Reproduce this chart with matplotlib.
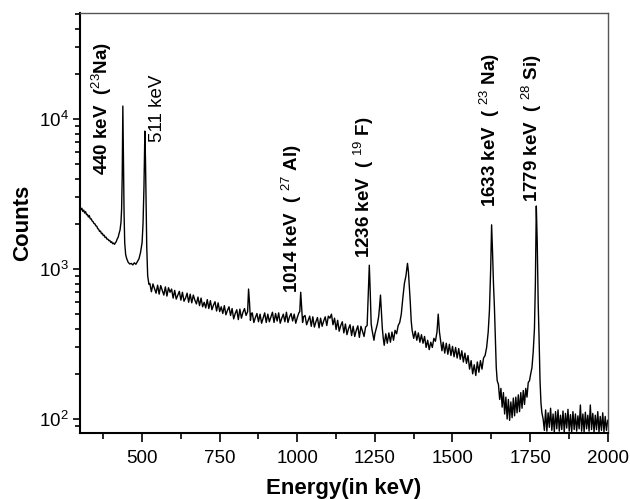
import matplotlib
matplotlib.use("Agg")
import matplotlib.pyplot as plt
from matplotlib.ticker import MultipleLocator, LogLocator, NullFormatter

plt.rcParams['font.family'] = ['Liberation Sans', 'DejaVu Sans']
plt.rcParams['mathtext.fontset'] = 'custom'
plt.rcParams['mathtext.rm'] = 'Liberation Sans'
plt.rcParams['mathtext.bf'] = 'Liberation Sans:bold'

# spectrum: energy (keV) and counts, row by row
energy = [
    300, 303, 306, 309, 312, 315, 318, 321, 324, 327, 330, 333, 336, 339, 342, 345,
    348, 351, 354, 357, 360, 363, 366, 369, 372, 375, 378, 381, 384, 387, 390, 393,
    396, 399, 402, 405, 408, 411, 414, 417, 420, 423, 426, 429, 432, 434, 436, 438,
    440, 442, 444, 447, 450, 455, 460, 465, 470, 475, 480, 485, 490, 495, 500, 503,
    506, 509, 511, 513, 515, 518, 522,
    525, 530, 535, 540, 545, 550, 555, 560, 565, 570, 575, 580, 585, 590, 595, 600,
    605, 610, 615, 620, 625, 630, 635, 640, 645, 650, 655, 660, 665, 670, 675, 680,
    685, 690, 695, 700, 705, 710, 715, 720, 725, 730, 735, 740, 745, 750, 755, 760,
    765, 770, 775, 780, 785, 790, 795, 800, 805, 810, 815, 820, 825, 830, 835, 840,
    843, 846, 849, 852,
    855, 860, 865, 870, 875, 880, 885, 890, 895, 900, 905, 910, 915, 920, 925, 930,
    935, 940, 945, 950, 955, 960, 965, 970, 975, 980, 985, 990, 995, 1000, 1005, 1008,
    1011, 1014, 1017, 1020,
    1025, 1030, 1035, 1040, 1045, 1050, 1055, 1060, 1065, 1070, 1075, 1080, 1085, 1090, 1095, 1100,
    1105, 1110, 1115, 1120, 1125, 1130, 1135, 1140, 1145, 1150, 1155, 1160, 1165, 1170, 1175, 1180,
    1185, 1190, 1195, 1200, 1205, 1210, 1215, 1220, 1225, 1229, 1232, 1235, 1238, 1241, 1244, 1247,
    1250, 1254, 1258, 1262, 1265, 1268, 1271, 1274, 1277, 1280, 1285, 1290, 1295, 1300, 1305, 1310,
    1315, 1320, 1325, 1330, 1335, 1340, 1345, 1350, 1355, 1358, 1361, 1364, 1367, 1370, 1375, 1380,
    1385, 1390, 1395, 1400, 1405, 1410, 1415, 1420, 1425, 1430, 1435, 1440, 1445, 1450, 1454, 1458,
    1462, 1466, 1470, 1475, 1480, 1485, 1490, 1495, 1500, 1505, 1510, 1515, 1520, 1525, 1530, 1535,
    1540, 1545, 1550, 1555, 1560, 1565, 1570, 1575, 1580, 1585, 1590, 1595, 1600, 1605, 1610, 1615,
    1619, 1623, 1626, 1629, 1632, 1635, 1638, 1641, 1644, 1648, 1652, 1656, 1660, 1664, 1668, 1672,
    1676, 1680, 1684, 1688, 1692, 1696, 1700, 1704, 1708, 1712, 1716, 1720, 1724, 1728, 1732, 1736,
    1740, 1744, 1748, 1752, 1756, 1760, 1764, 1767, 1770, 1773, 1776, 1779, 1782, 1785, 1788, 1792,
    1796, 1800, 1804, 1808, 1812, 1816, 1820, 1824, 1828, 1832, 1836, 1840, 1844, 1848, 1852, 1856,
    1860, 1864, 1868, 1872, 1876, 1880, 1884, 1888, 1892, 1896, 1900, 1904, 1908, 1912, 1916, 1920,
    1924, 1928, 1932, 1936, 1940, 1944, 1948, 1952, 1956, 1960, 1964, 1968, 1972, 1976, 1980, 1984,
    1988, 1992, 1996, 2000,
]
counts = [
    2620, 2480, 2540, 2420, 2470, 2360, 2410, 2300, 2310, 2220, 2270, 2160, 2160, 2090, 2070, 2010,
    2000, 1940, 1930, 1860, 1840, 1780, 1790, 1720, 1730, 1670, 1680, 1620, 1630, 1580, 1580, 1545,
    1550, 1505, 1520, 1475, 1490, 1460, 1495, 1525, 1590, 1630, 1730, 1820, 2050, 2500, 4200, 12200,
    5000, 2300, 1500, 1250, 1180, 1110, 1080, 1090, 1065, 1100, 1075, 1120, 1170, 1290, 1500, 2000,
    3500, 8300, 5200, 2600, 1400, 900, 790,
    800, 705, 795, 740, 690, 780, 680, 775, 720, 670, 760, 660, 750, 700, 735, 640,
    720, 630, 670, 710, 620, 700, 610, 640, 690, 600, 680, 595, 670, 620, 585, 650,
    570, 640, 560, 600, 550, 625, 545, 615, 535, 575, 605, 525, 595, 520, 560, 505,
    570, 495, 530, 560, 490, 545, 465, 505, 535, 460, 540, 470, 515, 545, 490, 520,
    735, 600, 455, 505,
    510, 440, 475, 505, 445, 500, 435, 470, 510, 440, 500, 445, 480, 515, 440, 505,
    450, 510, 435, 470, 500, 445, 515, 440, 480, 505, 450, 500, 435, 475, 510, 520,
    700, 560, 440, 480,
    490, 425, 455, 485, 415, 480, 410, 445, 475, 405, 470, 415, 450, 480, 420, 485,
    470, 500, 425, 470, 395, 455, 385, 420, 445, 375, 430, 365, 400, 425, 360, 415,
    355, 390, 418, 350, 415, 385, 355, 410, 420, 700, 1060, 700, 430, 390, 360, 335,
    370, 400, 430, 480, 560, 670, 520, 400, 345, 310, 370, 320, 375, 325, 380, 335,
    390, 370, 420, 440, 500, 640, 800, 900, 1090, 960, 760, 600, 450, 390, 345, 385,
    335, 375, 325, 365, 320, 355, 300, 335, 290, 325, 300, 345, 330, 380, 500, 380,
    330, 285, 325, 275, 320, 270, 315, 265, 305, 260, 300, 255, 295, 250, 285, 240,
    275, 235, 265, 215, 245, 200, 230, 195, 240, 205, 245, 215, 255, 265, 300, 380,
    530, 1000, 1970, 1300, 800, 560, 350, 220, 180, 170, 135, 160, 120, 150, 108, 140,
    100, 135, 98, 130, 102, 138, 105, 140, 110, 145, 112, 150, 118, 155, 125, 160,
    140, 175, 180, 200, 220, 280, 400, 800, 2630, 1500, 600, 340, 180, 128, 110, 100,
    84, 115, 83, 110, 88, 118, 84, 108, 82, 112, 86, 115, 83, 106, 85, 113,
    82, 109, 87, 116, 83, 107, 82, 112, 85, 108, 83, 105, 86, 124, 83, 108,
    82, 111, 86, 106, 83, 124, 85, 109, 82, 106, 85, 112, 82, 104, 84, 110,
    82, 104, 84, 98,
]

# peak labels: text, x, y (bottom of rotated text), bold
peak_labels = [
    (r"440 keV  ($^{23}$Na)", 371, 4235, True),
    ("511 keV", 551, 7030, False),
    (r"1014 keV  ( $^{27}$ Al)", 983, 692, True),
    (r"1236 keV  ( $^{19}$ F)", 1215, 1184, True),
    (r"1633 keV  ( $^{23}$ Na)", 1618, 2590, True),
    (r"1779 keV  ( $^{28}$ Si)", 1756, 2797, True),
]

fig = plt.figure(figsize=(6.3, 4.99), dpi=100)
ax = fig.add_axes([0.127, 0.1323, 0.8376, 0.8417])

ax.plot(energy, counts, color='black', lw=1.0)
ax.set_yscale('log')
ax.set_xlim(300, 2000)
ax.set_ylim(80.7, 50900)

ax.xaxis.set_major_locator(MultipleLocator(250))
ax.xaxis.set_minor_locator(MultipleLocator(125))
ax.yaxis.set_minor_locator(LogLocator(base=10, subs=range(2, 10)))
ax.yaxis.set_minor_formatter(NullFormatter())

ax.tick_params(axis='x', which='major', direction='out', length=6.5, width=1.2, labelsize=13.5, pad=6)
ax.tick_params(axis='x', which='minor', direction='out', length=4, width=1.2)
ax.tick_params(axis='y', which='major', direction='out', length=5, width=1.2, labelsize=13.5, pad=3)
ax.tick_params(axis='y', which='minor', direction='out', length=3.5, width=1.2)

for side in ['left', 'bottom']:
    ax.spines[side].set_linewidth(1.5)
for side in ['top', 'right']:
    ax.spines[side].set_linewidth(1.0)
    ax.spines[side].set_color('#555555')

ax.set_xlabel("Energy(in keV)", fontsize=16, fontweight='bold', labelpad=8)
ax.set_ylabel("Counts", fontsize=16, fontweight='bold', labelpad=4)

for txt, x, y, bold in peak_labels:
    ax.text(x, y, txt, rotation=90, ha='center', va='bottom', fontsize=13.5,
            fontweight='bold' if bold else 'normal')

fig.savefig("out.png", dpi=100)
